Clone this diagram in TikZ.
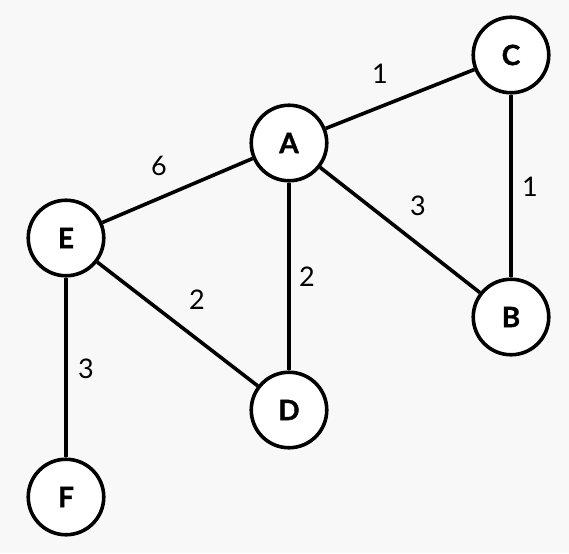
\documentclass[tikz,border=0pt]{standalone}
\usepackage{fontspec}
\setmainfont{Lato}
\newfontfamily\vertexfont{Lato}[BoldFeatures={FakeBold=1.2}]
\usepackage{tikz}
\usetikzlibrary{calc}

\definecolor{bgpaper}{HTML}{F8F8F8}

\tikzset{
  vertex/.style={circle, draw=black, line width=3.6pt, fill=white, minimum size=75.5pt, inner sep=0pt, font={\vertexfont\fontsize{28pt}{30pt}\selectfont\bfseries}},
  edge/.style={line width=3.6pt},
  weight/.style={font={\fontsize{27pt}{30pt}\selectfont}}
}

\begin{document}
\begin{tikzpicture}[x=1pt, y=-1pt]
    % background
    \fill[bgpaper] (0,0) rectangle (569,553);
    \useasboundingbox (0,0) rectangle (569,553);

    % vertices
    \node[vertex] (A) at (289,143) {A};
    \node[vertex] (C) at (511,55) {C};
    \node[vertex] (B) at (511,317) {B};
    \node[vertex] (E) at (66,238) {E};
    \node[vertex] (D) at (289,410) {D};
    \node[vertex] (F) at (66,497) {F};

    % edges
    \draw[edge] (A) -- (C);
    \draw[edge] (C) -- (B);
    \draw[edge] (A) -- (B);
    \draw[edge] (A) -- (E);
    \draw[edge] (A) -- (D);
    \draw[edge] (E) -- (D);
    \draw[edge] (E) -- (F);

    % weights
    \node[weight] (wAC) at (380,74) {1};
    \node[weight] (wCB) at (530,187) {1};
    \node[weight] (wAB) at (418,206) {3};
    \node[weight] (wAE) at (159,166) {6};
    \node[weight] (wAD) at (307,277) {2};
    \node[weight] (wED) at (197,300) {2};
    \node[weight] (wEF) at (86,369) {3};
\end{tikzpicture}
\end{document}
